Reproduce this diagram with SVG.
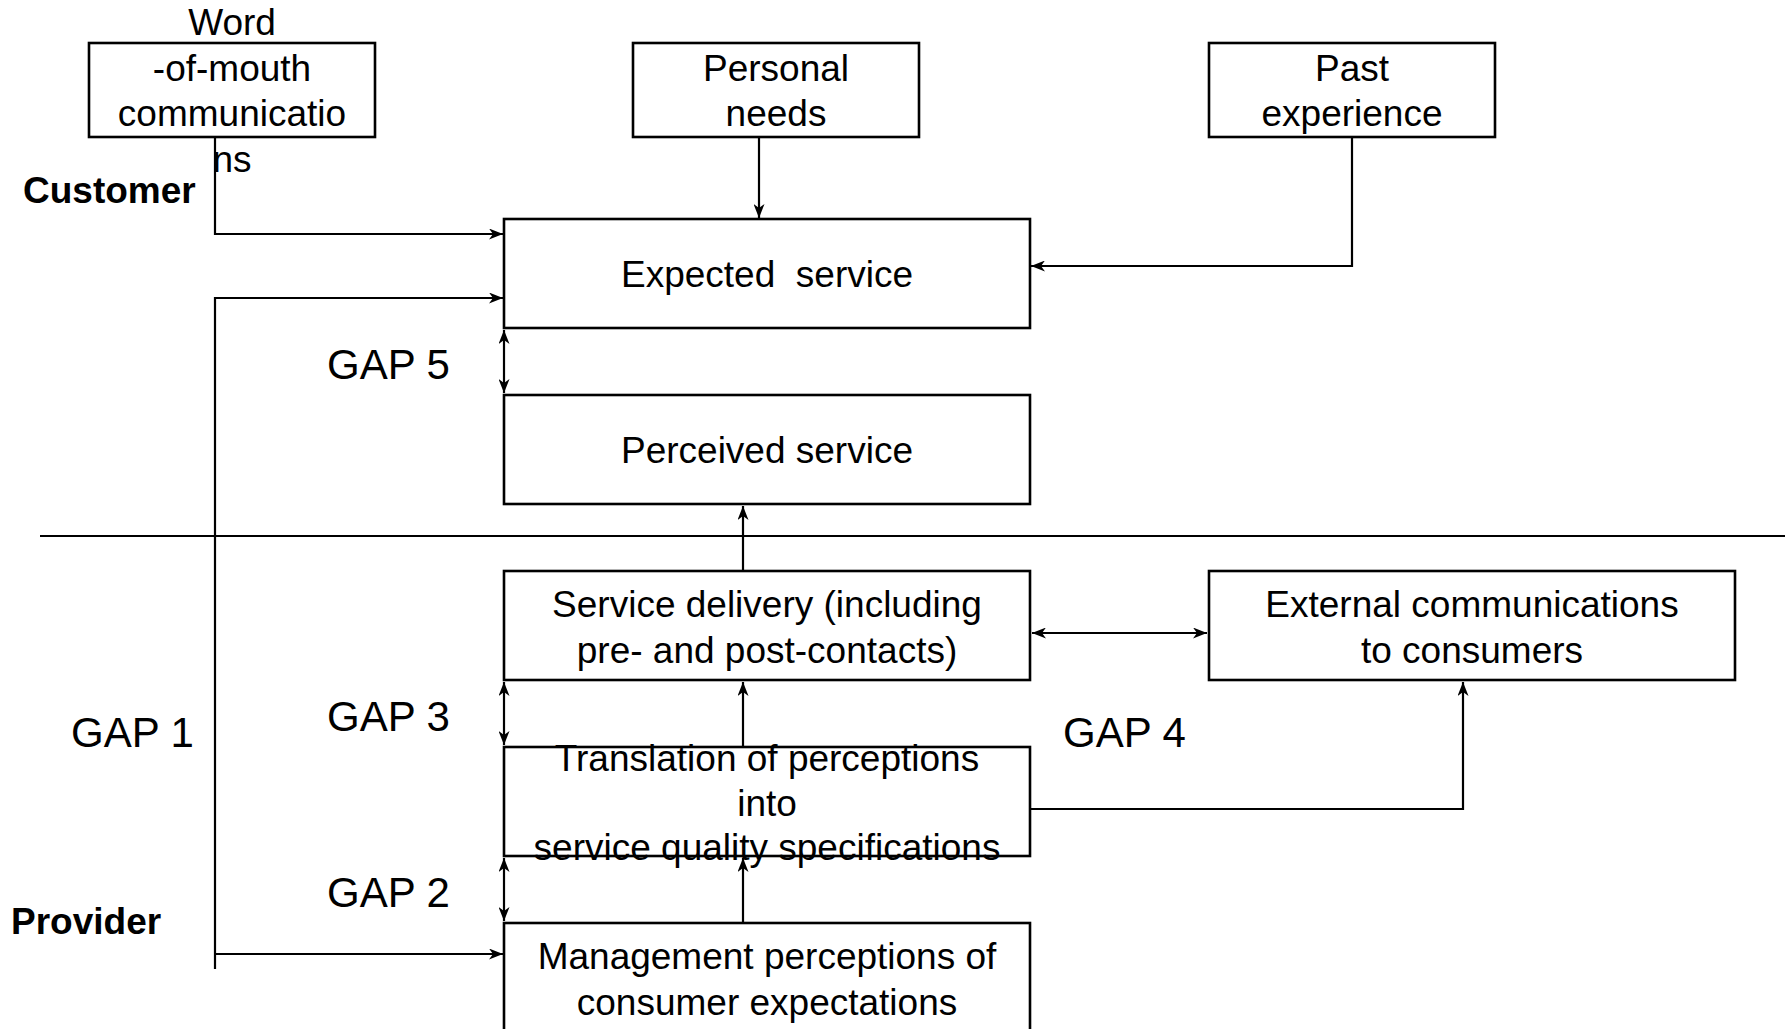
<svg xmlns="http://www.w3.org/2000/svg" width="1785" height="1029" viewBox="0 0 1785 1029">
<style>
.box{fill:#fff;stroke:#000;stroke-width:2.6}
.t{font-family:"Liberation Sans",Arial,sans-serif;font-size:37px;fill:#000;text-anchor:middle}
.g{font-family:"Liberation Sans",Arial,sans-serif;font-size:42px;fill:#000}
.b{font-family:"Liberation Sans",Arial,sans-serif;font-size:37px;font-weight:bold;fill:#000}
.c{fill:none;stroke:#000;stroke-width:2.2}
</style>
<defs>
<marker id="ah" viewBox="0 0 14 11" refX="14" refY="5.5" markerWidth="14" markerHeight="11" markerUnits="userSpaceOnUse" orient="auto-start-reverse">
<path d="M0,0 L14,5.5 L0,11 L4,5.5 z" fill="#000"/>
</marker>
</defs>
<rect width="1785" height="1029" fill="#fff"/>
<g id="connectors">
<line class="c" x1="40" y1="536" x2="1785" y2="536"/>
<polyline class="c" points="215,137 215,234 503,234" marker-end="url(#ah)"/>
<polyline class="c" points="215,969 215,298 503,298" marker-end="url(#ah)"/>
<line class="c" x1="215" y1="954" x2="503" y2="954" marker-end="url(#ah)"/>
<line class="c" x1="759" y1="137" x2="759" y2="218" marker-end="url(#ah)"/>
<polyline class="c" points="1352,137 1352,266 1031,266" marker-end="url(#ah)"/>
<line class="c" x1="504" y1="330" x2="504" y2="393" marker-start="url(#ah)" marker-end="url(#ah)"/>
<line class="c" x1="743" y1="571" x2="743" y2="506" marker-end="url(#ah)"/>
<line class="c" x1="1032" y1="633" x2="1207" y2="633" marker-start="url(#ah)" marker-end="url(#ah)"/>
<line class="c" x1="504" y1="682" x2="504" y2="745" marker-start="url(#ah)" marker-end="url(#ah)"/>
<line class="c" x1="743" y1="747" x2="743" y2="682" marker-end="url(#ah)"/>
<polyline class="c" points="1030,809 1463,809 1463,682" marker-end="url(#ah)"/>
<line class="c" x1="504" y1="858" x2="504" y2="921" marker-start="url(#ah)" marker-end="url(#ah)"/>
<line class="c" x1="743" y1="923" x2="743" y2="858" marker-end="url(#ah)"/>
</g>
<g id="word-of-mouth">
<rect class="box" x="89" y="43" width="286" height="94"/>
<text class="t" x="232" y="35">Word</text>
<text class="t" x="232" y="81">-of-mouth</text>
<text class="t" x="232" y="126">communicatio</text>
<text class="t" x="232" y="172">ns</text>
</g>
<g id="personal-needs">
<rect class="box" x="633" y="43" width="286" height="94"/>
<text class="t" x="776" y="81">Personal</text>
<text class="t" x="776" y="126">needs</text>
</g>
<g id="past-experience">
<rect class="box" x="1209" y="43" width="286" height="94"/>
<text class="t" x="1352" y="81">Past</text>
<text class="t" x="1352" y="126">experience</text>
</g>
<g id="expected-service">
<rect class="box" x="504" y="219" width="526" height="109"/>
<text class="t" x="767" y="287" xml:space="preserve">Expected  service</text>
</g>
<g id="perceived-service">
<rect class="box" x="504" y="395" width="526" height="109"/>
<text class="t" x="767" y="463">Perceived service</text>
</g>
<g id="service-delivery">
<rect class="box" x="504" y="571" width="526" height="109"/>
<text class="t" x="767" y="617">Service delivery (including</text>
<text class="t" x="767" y="663">pre- and post-contacts)</text>
</g>
<g id="external-communications">
<rect class="box" x="1209" y="571" width="526" height="109"/>
<text class="t" x="1472" y="617">External communications</text>
<text class="t" x="1472" y="663">to consumers</text>
</g>
<g id="translation">
<rect class="box" x="504" y="747" width="526" height="109"/>
<text class="t" x="767" y="771">Translation of perceptions</text>
<text class="t" x="767" y="816">into</text>
<text class="t" x="767" y="860">service quality specifications</text>
</g>
<g id="management">
<rect class="box" x="504" y="923" width="526" height="120"/>
<text class="t" x="767" y="969">Management perceptions of</text>
<text class="t" x="767" y="1015">consumer expectations</text>
</g>
<g id="labels">
<text class="b" x="23" y="203">Customer</text>
<text class="b" x="11" y="934">Provider</text>
<text class="g" x="327" y="379">GAP 5</text>
<text class="g" x="327" y="731">GAP 3</text>
<text class="g" x="327" y="907">GAP 2</text>
<text class="g" x="71" y="747">GAP 1</text>
<text class="g" x="1063" y="747">GAP 4</text>
</g>
</svg>
